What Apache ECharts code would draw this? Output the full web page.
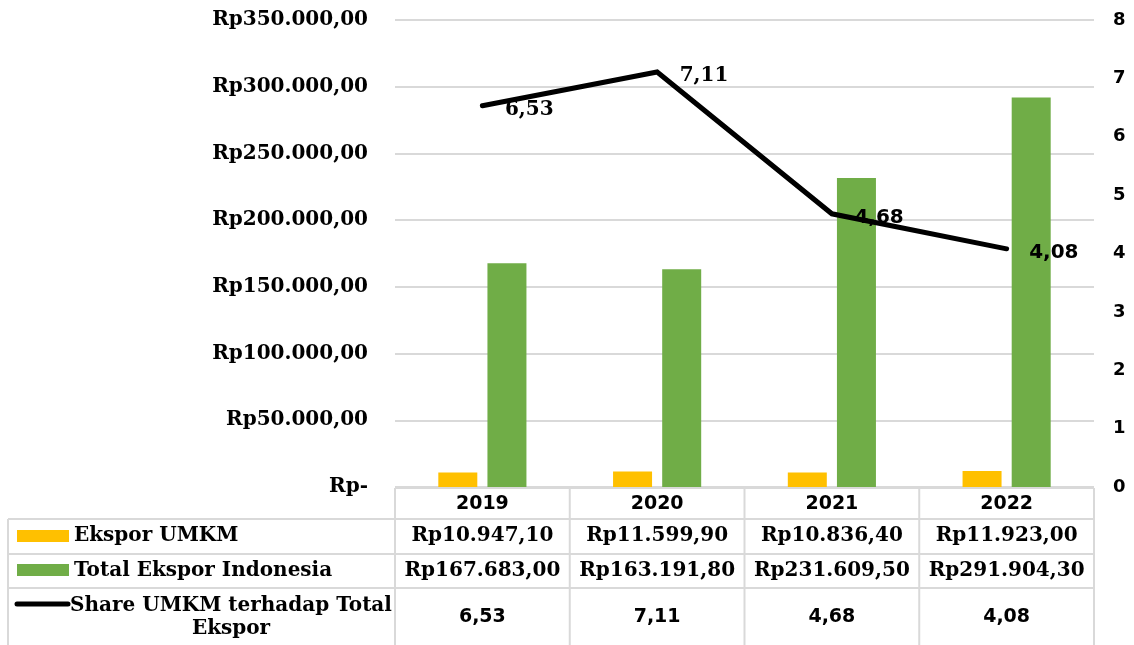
<!DOCTYPE html>
<html><head><meta charset="utf-8">
<script src="https://cdn.jsdelivr.net/npm/echarts@6/dist/echarts.min.js"></script>
<style>html,body{margin:0;padding:0;background:#fff}#c{width:1134px;height:645px}</style>
</head><body><div id="c"></div>
<script>
var years = ['2019', '2020', '2021', '2022'];
var eksporUMKM = [10947.10, 11599.90, 10836.40, 11923.00];
var totalEkspor = [167683.00, 163191.80, 231609.50, 291904.30];
var shareUMKM = [6.53, 7.11, 4.68, 4.08];
var seriesNames = ['Ekspor UMKM', 'Total Ekspor Indonesia', 'Share UMKM terhadap Total Ekspor'];
var leftTicks = [0, 350000, 50000];
var rightTicks = [0, 8, 1];

var SERIF = '"DejaVu Serif", "Liberation Serif", serif';
var SANS = '"DejaVu Sans", Verdana, sans-serif';
var YELLOW = '#FFC000', GREEN = '#70AD47', GRID = '#D9D9D9';

function fmtID(v, dec) {
  var s = v.toFixed(dec).split('.');
  var intPart = s[0].replace(/\B(?=(\d{3})+(?!\d))/g, '.');
  return dec > 0 ? intPart + ',' + s[1] : intPart;
}

var G = {left: 395, right: 40, top: 20, bottom: 158};
var W = 1134, H = 645;
var x0 = G.left, x1 = W - G.right, yAxis = H - G.bottom;
var colW = (x1 - x0) / years.length;
var rowTops = [yAxis + 1, 519, 554, 588, 660];

var graphics = [];
function line(xa, ya, xb, yb) {
  graphics.push({type: 'line', shape: {x1: xa, y1: ya, x2: xb, y2: yb}, style: {stroke: GRID, lineWidth: 2}, z: 10});
}
function text(t, x, y, font, align, size) {
  graphics.push({type: 'text', x: x, y: y, style: {text: t, font: 'bold ' + size + 'px ' + font, fill: '#000', textAlign: align || 'center', textVerticalAlign: 'middle'}, z: 11});
}
line(x0, rowTops[0], x1, rowTops[0]);
for (var r = 1; r <= 3; r++) line(8, rowTops[r], x1, rowTops[r]);
for (var c = 0; c <= years.length; c++) line(x0 + c * colW, rowTops[0], x0 + c * colW, H);
line(8, rowTops[1], 8, H);

graphics.push({type: 'rect', shape: {x: 17, y: 530, width: 52, height: 12}, style: {fill: YELLOW}, z: 11});
graphics.push({type: 'rect', shape: {x: 17, y: 564, width: 52, height: 12}, style: {fill: GREEN}, z: 11});
graphics.push({type: 'line', shape: {x1: 17, y1: 604, x2: 68, y2: 604}, style: {stroke: '#000', lineWidth: 5, lineCap: 'round'}, z: 11});
text(seriesNames[0], 74, 536, SERIF, 'left', 20);
text(seriesNames[1], 74, 571, SERIF, 'left', 20);
text('Share UMKM terhadap Total', 231, 606, SERIF, 'center', 20);
text('Ekspor', 231, 629, SERIF, 'center', 20);

for (var i = 0; i < years.length; i++) {
  var cx = x0 + (i + 0.5) * colW;
  text('Rp' + fmtID(eksporUMKM[i], 2), cx, 536, SERIF, 'center', 20);
  text('Rp' + fmtID(totalEkspor[i], 2), cx, 571, SERIF, 'center', 20);
  text(fmtID(shareUMKM[i], 2), cx, 617, SANS, 'center', 19);
}

var lineData = shareUMKM.map(function (v, i) {
  return {value: v, label: {fontFamily: i < 2 ? SERIF : SANS}};
});

var chart = echarts.init(document.getElementById('c'), null, {renderer: 'canvas'});
chart.setOption({
  animation: false,
  backgroundColor: '#fff',
  grid: G,
  xAxis: {
    type: 'category', data: years,
    axisLine: {show: false}, axisTick: {show: false},
    axisLabel: {margin: 8, fontFamily: SANS, fontWeight: 'bold', fontSize: 19, color: '#000'}
  },
  yAxis: [{
    type: 'value', min: leftTicks[0], max: leftTicks[1], interval: leftTicks[2],
    axisLine: {show: false}, axisTick: {show: false},
    splitLine: {lineStyle: {color: GRID, width: 2}},
    axisLabel: {
      margin: 27, fontFamily: SERIF, fontWeight: 'bold', fontSize: 20, color: '#000',
      formatter: function (v) { return v === 0 ? 'Rp-' : 'Rp' + fmtID(v, 2); }
    }
  }, {
    type: 'value', min: rightTicks[0], max: rightTicks[1], interval: rightTicks[2],
    axisLine: {show: false}, axisTick: {show: false}, splitLine: {show: false},
    axisLabel: {margin: 19, fontFamily: SANS, fontWeight: 'bold', fontSize: 18, color: '#000'}
  }],
  series: [{
    name: seriesNames[0], type: 'bar', data: eksporUMKM, barWidth: 39, barGap: '26%',
    itemStyle: {color: YELLOW}
  }, {
    name: seriesNames[1], type: 'bar', data: totalEkspor, barWidth: 39,
    itemStyle: {color: GREEN}
  }, {
    name: seriesNames[2], type: 'line', yAxisIndex: 1, data: lineData,
    symbol: 'circle', symbolSize: 1, showSymbol: true, itemStyle: {color: '#000'},
    lineStyle: {color: '#000', width: 5, cap: 'round', join: 'miter'},
    label: {show: true, position: 'right', distance: 22, offset: [0, 4], fontWeight: 'bold', fontSize: 20, color: '#000',
      formatter: function (p) { return fmtID(p.value, 2); }},
    z: 5
  }],
  graphic: graphics
});
</script></body></html>
